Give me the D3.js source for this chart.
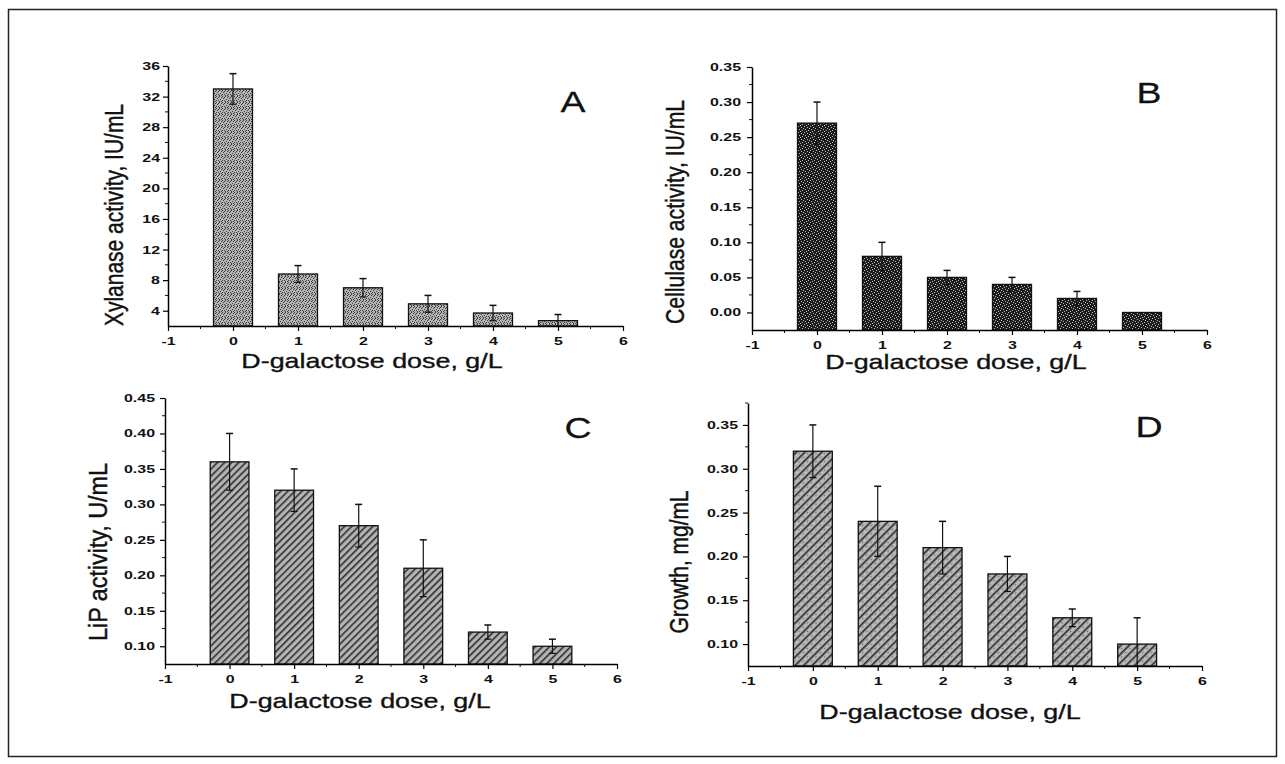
<!DOCTYPE html>
<html>
<head>
<meta charset="utf-8">
<script src="https://cdn.jsdelivr.net/npm/d3@7"></script>
<style>
  html, body { margin: 0; padding: 0; background: #fff; }
  svg { display: block; }
  text { font-family: "Liberation Sans", Arial, sans-serif; fill: #111; }
  .tick text { font-size: 11px; font-weight: bold; }
</style>
</head>
<body>
<svg id="chart" width="1285" height="764"></svg>
<script>
// ---------- data ----------
const doses = [0, 1, 2, 3, 4, 5];
const xTickValues = [-1, 0, 1, 2, 3, 4, 5, 6];

const xylanase    = [33.0, 8.8, 7.0, 4.9, 3.7, 2.7];
const xylanaseErr = [2.0, 1.1, 1.2, 1.1, 1.0, 0.8];
const yTicksA     = [4, 8, 12, 16, 20, 24, 28, 32, 36];

const cellulase    = [0.27, 0.08, 0.05, 0.04, 0.02, 0.00];
const cellulaseErr = [0.03, 0.02, 0.01, 0.01, 0.01, 0.00];
const yTicksB      = [0.00, 0.05, 0.10, 0.15, 0.20, 0.25, 0.30, 0.35];

const lip    = [0.36, 0.32, 0.27, 0.21, 0.12, 0.10];
const lipErr = [0.04, 0.03, 0.03, 0.04, 0.01, 0.01];
const yTicksC = [0.10, 0.15, 0.20, 0.25, 0.30, 0.35, 0.40, 0.45];

const growth    = [0.32, 0.24, 0.21, 0.18, 0.13, 0.10];
const growthErr = [0.03, 0.04, 0.03, 0.02, 0.01, 0.03];
const yTicksD   = [0.10, 0.15, 0.20, 0.25, 0.30, 0.35];

const xTitle = "D-galactose dose, g/L";

// ---------- layout ----------
const intFmt = d => String(d);            // plain hyphen for negatives, as in the original
const dec2 = d => d.toFixed(2);
const STRETCH = 1.28;                     // the scanned figure is widened horizontally
const TICK_STRETCH = 1.45;

const panels = [
  { key: "A", values: xylanase, errs: xylanaseErr, yTicks: yTicksA, yDomain: [2, 36], minorStep: 2,
    fmt: intFmt, yTitle: "Xylanase activity, IU/mL", fill: "url(#patA)",
    x0: 168, x1: 623, yTop: 66, yBot: 326, yLabGap: 8,
    yTitleX: 114, yTitleY: 215, yTitleLen: 222,
    xTitleX: 372, xTitleY: 368, label: [573, 112] },
  { key: "B", values: cellulase, errs: cellulaseErr, yTicks: yTicksB, yDomain: [-0.025, 0.35], minorStep: 0.025,
    fmt: dec2, yTitle: "Cellulase activity, IU/mL", fill: "url(#patB)",
    x0: 752, x1: 1207, yTop: 67, yBot: 330, yLabGap: 11,
    yTitleX: 675, yTitleY: 212, yTitleLen: 224,
    xTitleX: 956, xTitleY: 369, label: [1149, 103] },
  { key: "C", values: lip, errs: lipErr, yTicks: yTicksC, yDomain: [0.075, 0.45], minorStep: 0.025,
    fmt: dec2, yTitle: "LiP activity, U/mL", fill: "url(#patC)",
    x0: 165, x1: 617, yTop: 398, yBot: 664, yLabGap: 10,
    yTitleX: 98, yTitleY: 552, yTitleLen: 178,
    xTitleX: 360, xTitleY: 708, label: [578, 438] },
  { key: "D", values: growth, errs: growthErr, yTicks: yTicksD, yDomain: [0.075, 0.375], minorStep: 0.025,
    fmt: dec2, yTitle: "Growth, mg/mL", fill: "url(#patD)",
    x0: 748, x1: 1202, yTop: 403, yBot: 666, yLabGap: 10,
    yTitleX: 679, yTitleY: 562, yTitleLen: 143,
    xTitleX: 950, xTitleY: 719, label: [1149, 437] }
];

const svg = d3.select("#chart");

// ---------- patterns ----------
const defs = svg.append("defs");
function dotPattern(id, base, dot, pts, size) {
  const p = defs.append("pattern").attr("id", id).attr("patternUnits", "userSpaceOnUse")
    .attr("width", size).attr("height", size);
  p.append("rect").attr("width", size).attr("height", size).attr("fill", base);
  pts.forEach(([x, y]) => p.append("rect").attr("x", x).attr("y", y).attr("width", 1).attr("height", 1).attr("fill", dot));
}
// irregular stipple so that no diagonal lines appear
dotPattern("patA", "#b4b4b4", "#3c3c3c",
  [[0, 0], [3, 0], [5, 1], [1, 2], [4, 3], [0, 4], [2, 4], [5, 5], [2, 1], [3, 5]], 6);
dotPattern("patB", "#1c1c1c", "#bdbdbd",
  [[0, 0], [3, 1], [1, 3], [4, 4], [5, 2], [2, 5]], 6);
function hatchPattern(id, base, line, gap, dots) {
  const p = defs.append("pattern").attr("id", id).attr("patternUnits", "userSpaceOnUse")
    .attr("width", gap).attr("height", gap).attr("patternTransform", "rotate(45)");
  p.append("rect").attr("width", gap).attr("height", gap).attr("fill", base);
  if (dots) {
    p.append("rect").attr("x", 3).attr("y", 1).attr("width", 1).attr("height", 1).attr("fill", "#666");
    p.append("rect").attr("x", 3).attr("y", 4).attr("width", 1).attr("height", 1).attr("fill", "#ddd");
  }
  p.append("line").attr("x1", 0.8).attr("x2", 0.8).attr("y1", 0).attr("y2", gap)
    .attr("stroke", line).attr("stroke-width", 1.6);
}
hatchPattern("patC", "#b4b4b4", "#2e2e2e", 5, false);
hatchPattern("patD", "#b2b2b2", "#2a2a2a", 6, true);

// ---------- frame ----------
svg.append("rect").attr("x", 8.5).attr("y", 9.5).attr("width", 1268).attr("height", 747)
  .attr("fill", "none").attr("stroke", "#222").attr("stroke-width", 1.5);

// ---------- panels ----------
panels.forEach(p => {
  const g = svg.append("g");
  const x = d3.scaleLinear().domain([-1, 6]).range([p.x0, p.x1]);
  const y = d3.scaleLinear().domain(p.yDomain).range([p.yBot, p.yTop]);
  const rows = doses.map((d, i) => ({ dose: d, v: p.values[i], e: p.errs[i] }));

  // bars
  g.selectAll("rect.bar").data(rows).join("rect")
    .attr("class", "bar")
    .attr("x", r => x(r.dose - 0.3))
    .attr("width", x(0.3) - x(-0.3))
    .attr("y", r => y(r.v))
    .attr("height", r => Math.max(0, y(p.yDomain[0]) - y(r.v)))
    .attr("fill", p.fill)
    .attr("stroke", "#111").attr("stroke-width", 1.3);

  // error bars
  const eb = g.selectAll("g.err").data(rows.filter(r => r.e > 0)).join("g").attr("class", "err")
    .attr("stroke", "#111");
  eb.append("line")
    .attr("x1", r => x(r.dose)).attr("x2", r => x(r.dose))
    .attr("y1", r => y(r.v + r.e))
    .attr("y2", r => y(Math.max(p.yDomain[0], r.v - r.e)))
    .attr("stroke-width", 1.2);
  eb.append("line")
    .attr("x1", r => x(r.dose) - 3.5).attr("x2", r => x(r.dose) + 3.5)
    .attr("y1", r => y(r.v + r.e)).attr("y2", r => y(r.v + r.e))
    .attr("stroke-width", 1.5);
  eb.filter(r => r.v - r.e >= p.yDomain[0]).append("line")
    .attr("x1", r => x(r.dose) - 3.5).attr("x2", r => x(r.dose) + 3.5)
    .attr("y1", r => y(r.v - r.e)).attr("y2", r => y(r.v - r.e))
    .attr("stroke-width", 1.2);

  // x axis
  const xAxis = d3.axisBottom(x).tickValues(xTickValues).tickFormat(intFmt).tickSize(5).tickPadding(6).tickSizeOuter(0);
  const xg = g.append("g").attr("transform", `translate(0,${p.yBot})`).call(xAxis);
  xg.selectAll(".tick text").attr("transform", `scale(${TICK_STRETCH},1)`)
    .attr("x", 0);
  xg.selectAll("line.minor").data(d3.range(-0.5, 6, 1)).join("line").attr("class", "minor")
    .attr("x1", d => x(d)).attr("x2", d => x(d)).attr("y1", 0).attr("y2", 3)
    .attr("stroke", "#111");
  xg.select(".domain").attr("stroke-width", 1.5);
  xg.selectAll(".tick line").attr("stroke-width", 1.2);

  // y axis
  const yAxis = d3.axisLeft(y).tickValues(p.yTicks).tickFormat(p.fmt).tickSize(5).tickPadding(4).tickSizeOuter(0);
  const yg = g.append("g").attr("transform", `translate(${p.x0},0)`).call(yAxis);
  yg.selectAll(".tick text").attr("x", 0)
    .attr("transform", `translate(${-p.yLabGap},0) scale(${TICK_STRETCH},1)`);
  const yMinor = [];
  for (let v = p.yTicks[0] - p.minorStep; v < p.yDomain[1]; v += p.minorStep * 2) {
    if (v > p.yDomain[0] + 1e-9) yMinor.push(v);
  }
  yg.selectAll("line.minor").data(yMinor).join("line").attr("class", "minor")
    .attr("x1", -3).attr("x2", 0).attr("y1", d => y(d)).attr("y2", d => y(d))
    .attr("stroke", "#111");
  yg.select(".domain").attr("stroke-width", 1.5);
  yg.selectAll(".tick line").attr("stroke-width", 1.2);

  // titles
  g.append("text")
    .attr("transform", `translate(${p.yTitleX},${p.yTitleY}) rotate(-90) scale(1,${STRETCH})`)
    .attr("text-anchor", "middle").attr("dominant-baseline", "central")
    .attr("textLength", p.yTitleLen).attr("lengthAdjust", "spacingAndGlyphs")
    .attr("stroke", "#111").attr("stroke-width", 0.35)
    .style("font-size", "20px")
    .text(p.yTitle);
  g.append("text")
    .attr("transform", `translate(${p.xTitleX},${p.xTitleY}) scale(${STRETCH},1)`)
    .attr("text-anchor", "middle")
    .attr("stroke", "#111").attr("stroke-width", 0.35)
    .style("font-size", "21px")
    .text(xTitle);
  g.append("text")
    .attr("transform", `translate(${p.label[0]},${p.label[1]}) scale(1.25,1)`)
    .attr("text-anchor", "middle")
    .attr("stroke", "#111").attr("stroke-width", 0.25)
    .style("font-size", "30px")
    .text(p.key);
});
</script>
</body>
</html>
